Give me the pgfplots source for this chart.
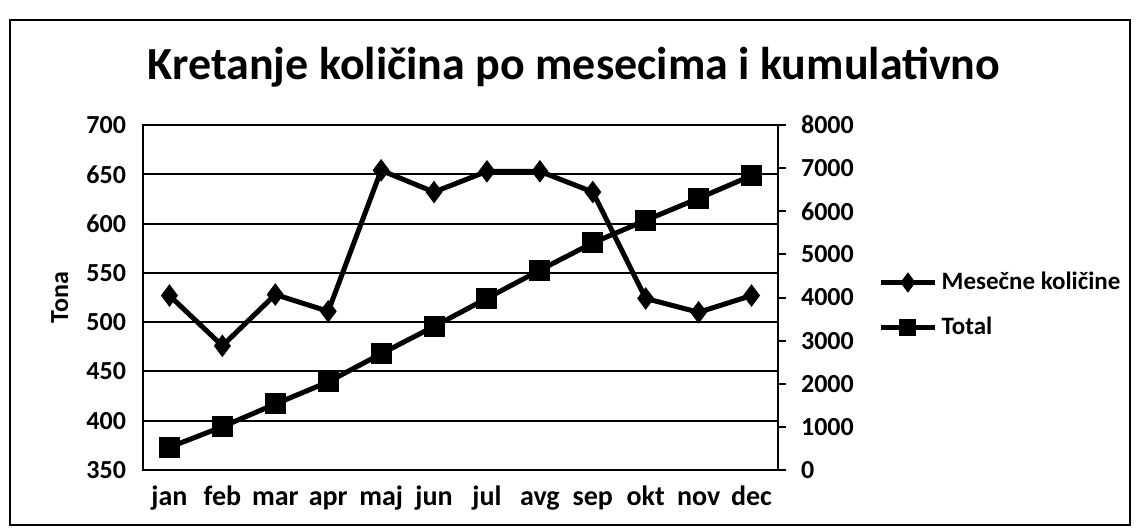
\documentclass[border=0pt]{standalone}
\usepackage{fontspec}
\setmainfont{Carlito}
\usepackage{pgfplots}
\pgfplotsset{compat=1.18}
\pgfplotstableread{
m val
0 527
1 476
2 528
3 511
4 654
5 632
6 653
7 653
8 632
9 524
10 510
11 527
}\monthly
\pgfplotstableread{
m val
0 527
1 1003
2 1531
3 2042
4 2696
5 3328
6 3981
7 4634
8 5266
9 5790
10 6300
11 6827
}\total
\begin{document}
\begin{tikzpicture}[x=1pt,y=1pt]
\path[use as bounding box] (0,0) rectangle (568,265.5);
\draw[line width=0.8pt] (5,3) rectangle (565,255.5);
\node[font=\bfseries\fontsize{23}{27}\selectfont] at (287,232) {Kretanje količina po mesecima i kumulativno};
\pgfplotsset{
  common/.style={
    at={(71.5pt,30.5pt)}, anchor=south west,
    scale only axis, width=317.5pt, height=172.5pt,
    xmin=-0.5, xmax=11.5,
    ticklabel style={font=\bfseries\fontsize{13}{15}\selectfont},
    /pgf/number format/assume math mode=true,
    /pgf/number format/set thousands separator={},
    scaled ticks=false,
  },
}
\begin{axis}[common,
  ymin=350, ymax=700,
  xtick={0,...,11},
  xticklabels={jan,feb,mar,apr,maj,jun,jul,avg,sep,okt,nov,dec},
  ytick={350,400,...,700},
  ymajorgrids, grid style={black, line width=1pt},
  major tick length=0pt,
  axis line style={line width=1pt},
  yticklabel style={xshift=-5pt},
  xticklabel style={font=\bfseries\fontsize{14}{16}\selectfont, yshift=-6.5pt, text height=1.6ex, text depth=0.5ex, anchor=north},
  ylabel={Tona},
  ylabel style={font=\bfseries\fontsize{13}{15}\selectfont, at={(axis description cs:-0.131,0.5)}, anchor=center},
]
\addplot[black, line width=2.5pt, mark=diamond*, mark size=3.6pt, mark options={solid}] table[x=m,y=val]{\monthly};
\end{axis}
\begin{axis}[common,
  ymin=0, ymax=8000,
  axis y line*=right, axis x line=none,
  ytick={0,1000,...,8000},
  tick align=outside, major tick length=4pt,
  tick style={black, line width=1pt},
  axis line style={line width=1pt},
  yticklabel style={xshift=4pt},
  legend style={at={(1.157,0.586)}, anchor=north west, draw=none, fill=none,
    font=\bfseries\fontsize{12.5}{14}\selectfont, row sep=8pt, inner sep=0pt},
  legend cell align=left,
  legend image code/.code={\draw[mark repeat=2,mark phase=2,#1] plot coordinates {(0cm,0cm)(0.48cm,0cm)(0.96cm,0cm)};},
]
\addlegendimage{black, line width=2.5pt, mark=diamond*, mark size=3pt}
\addlegendentry{Mesečne količine}
\addlegendimage{black, line width=2.5pt, mark=square*, mark size=3pt}
\addlegendentry{Total}
\addplot[black, line width=2.5pt, mark=square*, mark size=4pt, forget plot] table[x=m,y=val]{\total};
\end{axis}
\end{tikzpicture}
\end{document}
